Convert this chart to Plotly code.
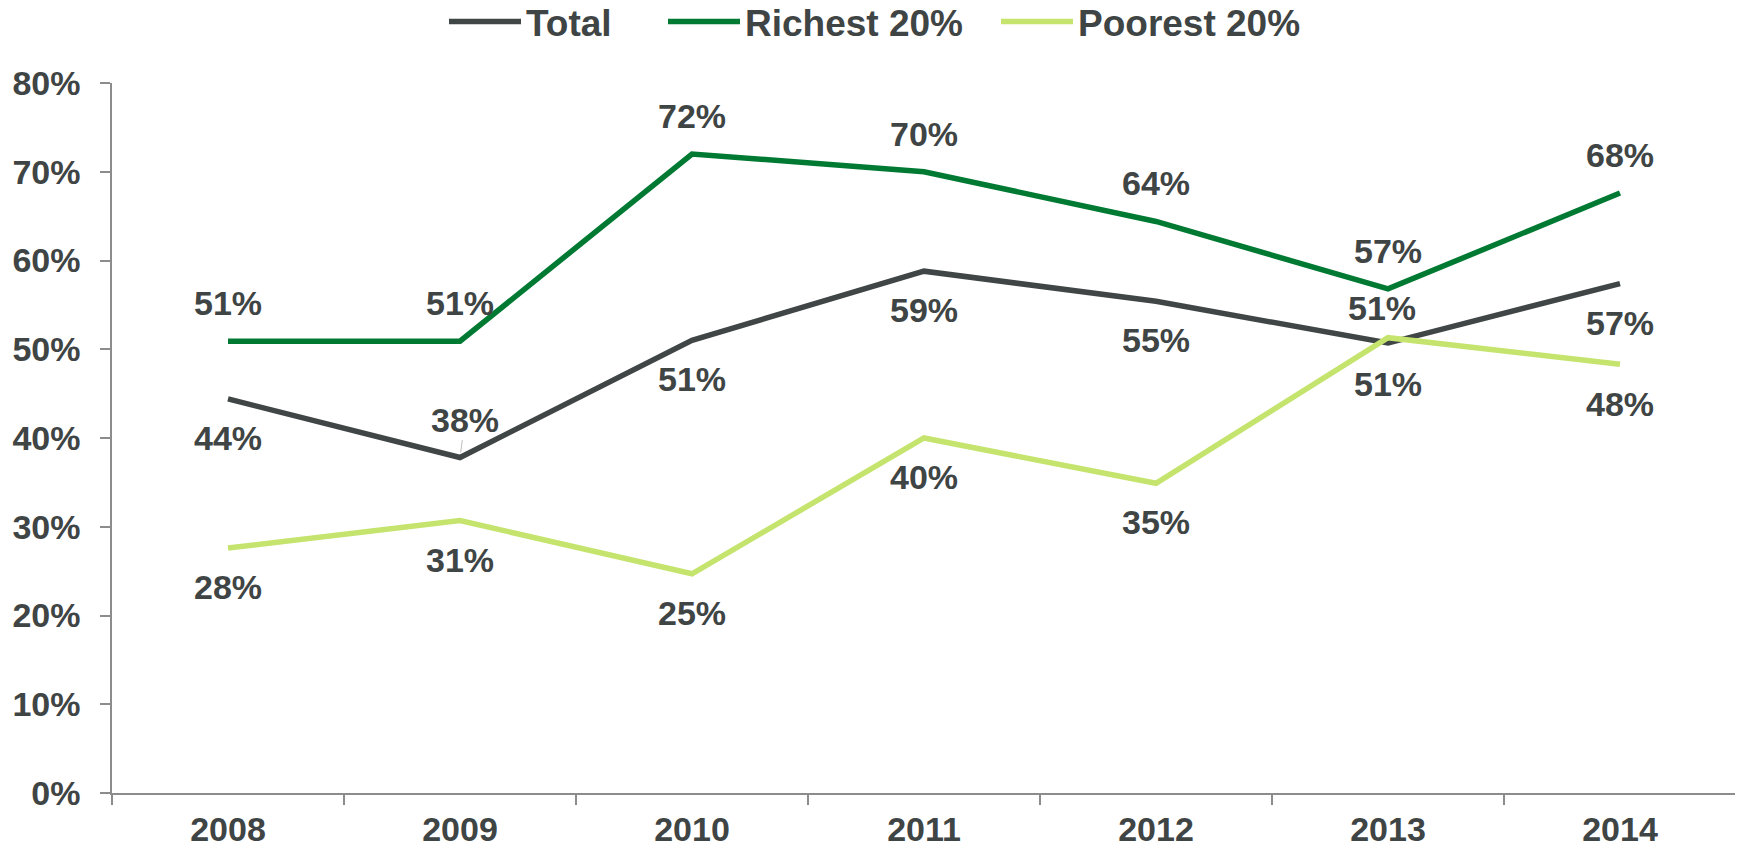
import plotly.graph_objects as go

years = ["2008", "2009", "2010", "2011", "2012", "2013", "2014"]
total = [0.444, 0.378, 0.510, 0.588, 0.554, 0.507, 0.574]
richest = [0.509, 0.509, 0.720, 0.700, 0.644, 0.568, 0.676]
poorest = [0.276, 0.307, 0.247, 0.400, 0.349, 0.513, 0.483]
y_ticks = [0, 0.1, 0.2, 0.3, 0.4, 0.5, 0.6, 0.7, 0.8]
y_tick_labels = ["0%", "10%", "20%", "30%", "40%", "50%", "60%", "70%", "80%"]

# label placement: vertical shift in px (positive = above)
total_shift = [-39, 38, -39, -39, -39, 35, -39]
richest_shift = [38, 38, 38, 38, 38, 38, 38]
poorest_shift = [-39, -39, -39, -39, -39, -46, -40]

TXT = "#3F4444"
C_TOTAL = "#404545"
C_RICH = "#007A33"
C_POOR = "#C5E46E"
FONT = "Liberation Sans, Arial, sans-serif"

# the page body has an 8px margin, so the figure is sized to fit the window
W, H = 1735, 842

fig = go.Figure()
fig.add_trace(go.Scatter(x=years, y=total, mode="lines", name="Total",
                         line=dict(color=C_TOTAL, width=5.5), legend="legend"))
fig.add_trace(go.Scatter(x=years, y=richest, mode="lines", name="Richest 20%",
                         line=dict(color=C_RICH, width=5.5), legend="legend2"))
fig.add_trace(go.Scatter(x=years, y=poorest, mode="lines", name="Poorest 20%",
                         line=dict(color=C_POOR, width=5.5), legend="legend3"))

annotations = []
def add_labels(vals, shifts, special=None):
    for i, (v, s) in enumerate(zip(vals, shifts)):
        a = dict(x=i, y=v, xref="x", yref="y", text=f"{round(v*100):.0f}%",
                 font=dict(family=FONT, size=34, color=TXT, weight="bold"),
                 showarrow=False, yshift=s)
        if special and i in special:
            a.update(special[i])
        annotations.append(a)

add_labels(total, total_shift,
           special={1: dict(showarrow=True, ax=5, ay=-38, yshift=0,
                            arrowcolor="#BFBFBF", arrowwidth=1, arrowhead=0,
                            standoff=5),
                    5: dict(xshift=-6)})
add_labels(richest, richest_shift)
add_labels(poorest, poorest_shift)

def leg(xpx):
    return dict(orientation="h", xref="container", yref="container",
                x=xpx / W, xanchor="left", y=1 - 14 / H, yanchor="middle",
                font=dict(family=FONT, size=37, color=TXT, weight="bold"),
                itemwidth=72, bgcolor="rgba(0,0,0,0)")

fig.update_layout(
    width=W, height=H,
    margin=dict(l=104, r=7, t=75, b=57, autoexpand=False),
    paper_bgcolor="white", plot_bgcolor="white",
    font=dict(family=FONT, color=TXT, weight="bold"),
    showlegend=True,
    legend=leg(436), legend2=leg(655), legend3=leg(988),
    annotations=annotations,
)
fig.update_xaxes(type="category", range=[-0.5, 6.5], showline=True,
                 linecolor="#8C8C8C", linewidth=1.5, automargin=False,
                 ticks="outside", tickson="boundaries", ticklen=10, tickcolor="#8C8C8C",
                 tickwidth=1.5, showgrid=False, zeroline=False, tickangle=0,
                 tickfont=dict(family=FONT, size=34, color=TXT, weight="bold"),
                 ticklabelstandoff=5)
fig.update_yaxes(range=[0, 0.8], tickvals=y_ticks, ticktext=y_tick_labels,
                 showline=True, linecolor="#8C8C8C", linewidth=1.5, automargin=False,
                 ticks="outside", ticklen=10, tickcolor="#8C8C8C", tickwidth=1.5,
                 showgrid=False, zeroline=False,
                 tickfont=dict(family=FONT, size=34, color=TXT, weight="bold"),
                 ticklabelstandoff=13)

fig.write_html("out.html")
